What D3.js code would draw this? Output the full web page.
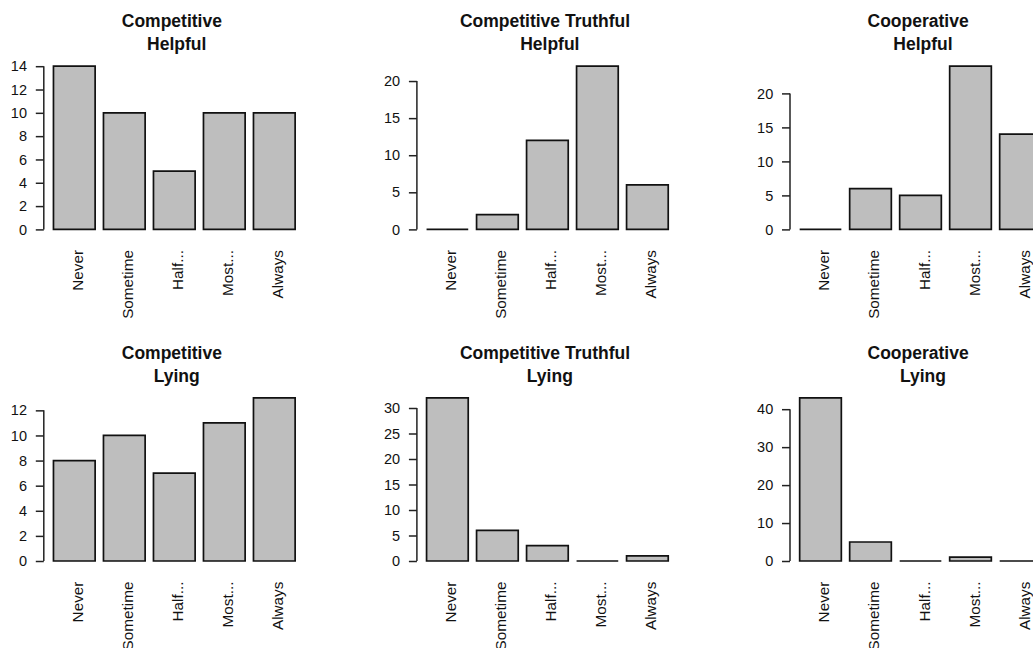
<!DOCTYPE html>
<html>
<head>
<meta charset="utf-8">
<script src="https://cdn.jsdelivr.net/npm/d3@7"></script>
<style>
  body { margin: 0; background: #fff; }
  svg { display: block; font-family: "Liberation Sans", Arial, sans-serif; }
  text { white-space: pre; }
</style>
</head>
<body>
<script>
// answer categories shared by every panel
const categories = ['Never', 'Sometime', 'Half...', 'Most...', 'Always']

// counts per game / behaviour
const competitiveHelpful = [14, 10, 5, 10, 10]
const truthfulHelpful = [0, 2, 12, 22, 6]
const cooperativeHelpful = [0, 6, 5, 24, 14]
const competitiveLying = [8, 10, 7, 11, 13]
const truthfulLying = [32, 6, 3, 0, 1]
const cooperativeLying = [43, 5, 0, 1, 0]

// y tick labels per panel
const ticksCompetitiveHelpful = [0, 2, 4, 6, 8, 10, 12, 14]
const ticksTruthfulHelpful = [0, 5, 10, 15, 20]
const ticksCooperativeHelpful = [0, 5, 10, 15, 20]
const ticksCompetitiveLying = [0, 2, 4, 6, 8, 10, 12]
const ticksTruthfulLying = [0, 5, 10, 15, 20, 25, 30]
const ticksCooperativeLying = [0, 10, 20, 30, 40]

// title lines (R paste() leaves the spaces round the line break)
const games = ['Competitive', 'Competitive Truthful', 'Cooperative']
const behaviours = ['Helpful', 'Lying']

const panels = [
  {game: 0, behaviour: 0, values: competitiveHelpful, ticks: ticksCompetitiveHelpful},
  {game: 1, behaviour: 0, values: truthfulHelpful, ticks: ticksTruthfulHelpful},
  {game: 2, behaviour: 0, values: cooperativeHelpful, ticks: ticksCooperativeHelpful},
  {game: 0, behaviour: 1, values: competitiveLying, ticks: ticksCompetitiveLying},
  {game: 1, behaviour: 1, values: truthfulLying, ticks: ticksTruthfulLying},
  {game: 2, behaviour: 1, values: cooperativeLying, ticks: ticksCooperativeLying},
]

const width = 1033
const height = 648
const plotWidth = 261
const barSpan = 163.2

const svg = d3.select('body').append('svg').attr('width', width).attr('height', height)

const render = (p) => {
  const left = 43.8 + 373.1 * p.game
  const base = 229.4 + 331.6 * p.behaviour

  const x = d3.scaleBand().domain(categories).range([left, left + plotWidth])
              .paddingInner(1 / 6).paddingOuter(0.1933)
  const y = d3.scaleLinear().domain([0, d3.max(p.values)]).range([base, base - barSpan])

  const g = svg.append('g')

  // bars as paths so that zero counts still show as a flat line
  g.selectAll('.bar')
   .data(p.values.map((v, i) => [categories[i], v]))
   .enter()
   .append('path')
   .attr('d', d => {
     const x0 = x(d[0]), w = x.bandwidth(), y0 = y(0), y1 = y(d[1])
     return `M${x0},${y0}H${x0 + w}V${y1}H${x0}Z`
   })
   .attr('fill', '#bebebe')
   .attr('stroke', '#111')
   .attr('stroke-width', 1.7)

  // y axis, line only spans the ticks like R does
  const axis = g.append('g')
                .attr('transform', `translate(${left},0)`)
                .call(d3.axisLeft(y).tickValues(p.ticks).tickSize(8).tickPadding(8.8))
  axis.select('.domain').remove()
  axis.selectAll('line').attr('stroke', '#222').attr('stroke-width', 1.5)
  axis.selectAll('text').attr('font-size', 14.5).attr('fill', '#111')
      .attr('font-family', '"Liberation Sans", Arial, sans-serif')
  axis.append('line')
      .attr('y1', y(p.ticks[0])).attr('y2', y(p.ticks[p.ticks.length - 1]))
      .attr('stroke', '#222').attr('stroke-width', 1.5)

  // rotated category labels
  g.selectAll('.cat')
   .data(categories)
   .enter()
   .append('text')
   .attr('transform', c => `translate(${x(c) + x.bandwidth() / 2 + 9},${base + 20.6}) rotate(-90)`)
   .attr('text-anchor', 'end')
   .attr('font-size', 15.3)
   .attr('fill', '#111')
   .text(c => c)

  // two line bold title
  const cx = left + plotWidth / 2
  const lines = [games[p.game] + ' ', ' ' + behaviours[p.behaviour]]
  g.selectAll('.title')
   .data(lines)
   .enter()
   .append('text')
   .attr('x', cx)
   .attr('y', (d, i) => base - 202 + i * 22.6)
   .attr('text-anchor', 'middle')
   .attr('font-size', 17.5)
   .attr('font-weight', 'bold')
   .attr('fill', '#111')
   .text(d => d)
}

panels.forEach(render)
</script>
</body>
</html>
